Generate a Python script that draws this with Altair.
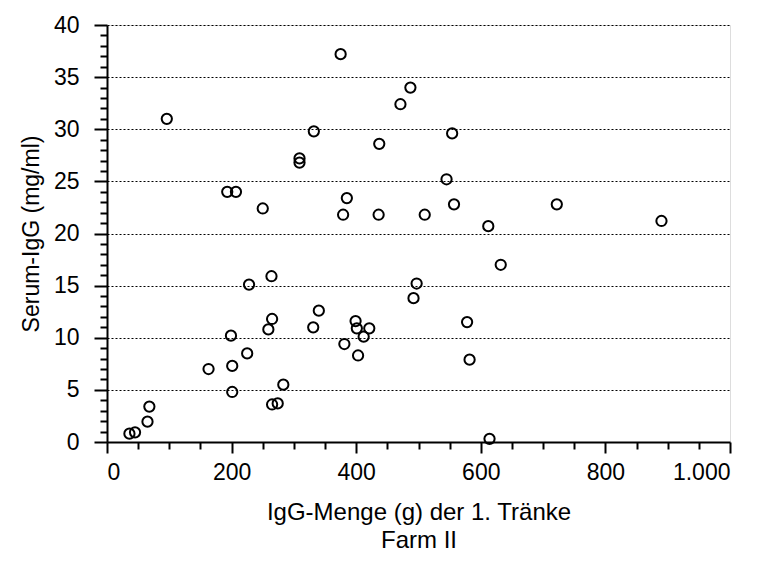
import altair as alt
import pandas as pd

igg_menge = [36, 45, 65, 68, 163, 201, 201, 199, 225, 228, 264, 265, 259, 283, 265, 274,
             331, 340, 399, 401, 421, 412, 381, 403, 497, 492, 632, 612, 578, 582, 614, 890,
             96, 375, 487, 471, 332, 309, 309, 437, 193, 207, 250, 379, 385, 436, 510,
             554, 545, 557, 722]
serum_igg = [0.8, 0.93, 1.95, 3.4, 7.0, 7.3, 4.8, 10.2, 8.5, 15.1, 15.9, 11.8, 10.8, 5.5, 3.6, 3.7,
             11.0, 12.6, 11.6, 10.9, 10.9, 10.1, 9.4, 8.3, 15.2, 13.8, 17.0, 20.7, 11.5, 7.9, 0.3, 21.2,
             31.0, 37.2, 34.0, 32.4, 29.8, 27.2, 26.8, 28.6, 24.0, 24.0, 22.4, 21.8, 23.4, 21.8, 21.8,
             29.6, 25.2, 22.8, 22.8]

x_major = [0, 200, 400, 600, 800, 1000]
x_minor = [v for v in range(0, 1001, 50) if v % 200 != 0]
y_major = [0, 5, 10, 15, 20, 25, 30, 35, 40]
y_minor = [v for v in range(0, 41) if v % 5 != 0]

df = pd.DataFrame({"x": igg_menge, "y": serum_igg})

FONT = "Liberation Sans"
xs = alt.Scale(domain=[0, 1000], nice=False, zero=False)
ys = alt.Scale(domain=[0, 40], nice=False, zero=False)

points = alt.Chart(df).mark_point(
    shape="circle", filled=False, size=105, strokeWidth=2, color="black", opacity=1
).encode(
    x=alt.X("x:Q", scale=xs, axis=alt.Axis(
        values=x_major, orient="bottom", grid=False, tickSize=11, tickWidth=2, tickColor="black",
        domainColor="black", domainWidth=2, labelFont=FONT, labelFontSize=23, labelColor="black",
        labelPadding=8,
        labelExpr="replace(format(datum.value, ','), ',', '.')",
        title=["IgG-Menge (g) der 1. Tränke", "Farm II"], titleFont=FONT, titleFontSize=24,
        titleFontWeight="normal", titleColor="black", titlePadding=16, titleLineHeight=28)),
    y=alt.Y("y:Q", scale=ys, axis=alt.Axis(
        values=y_major, orient="left", grid=True, gridColor="black", gridDash=[2, 2], gridWidth=1,
        tickSize=13, tickWidth=2, tickColor="black", domainColor="black", domainWidth=2,
        labelFont=FONT, labelFontSize=23, labelColor="black", labelPadding=15,
        title="Serum-IgG (mg/ml)", titleFont=FONT, titleFontSize=23, titleFontWeight="normal",
        titleColor="black", titlePadding=10)),
)

minor = alt.Chart(df).mark_point(opacity=0).encode(
    x=alt.X("x:Q", scale=xs, axis=alt.Axis(
        values=x_minor, orient="bottom", grid=False, labels=False, title=None, tickSize=7,
        tickWidth=2, tickColor="black", domain=False)),
    y=alt.Y("y:Q", scale=ys, axis=alt.Axis(
        values=y_minor, orient="left", grid=False, labels=False, title=None, tickSize=7,
        tickWidth=2, tickColor="black", domain=False)),
)

chart = alt.layer(minor, points).resolve_axis(x="independent", y="independent").properties(
    width=623, height=417,
    autosize=alt.AutoSizeParams(type="none"),
    padding={"left": 107, "top": 25, "right": 33, "bottom": 128},
).configure_view(stroke="black", strokeWidth=2).configure(background="white")

chart.save("out.html", embed_options={"renderer": "svg", "actions": False})
